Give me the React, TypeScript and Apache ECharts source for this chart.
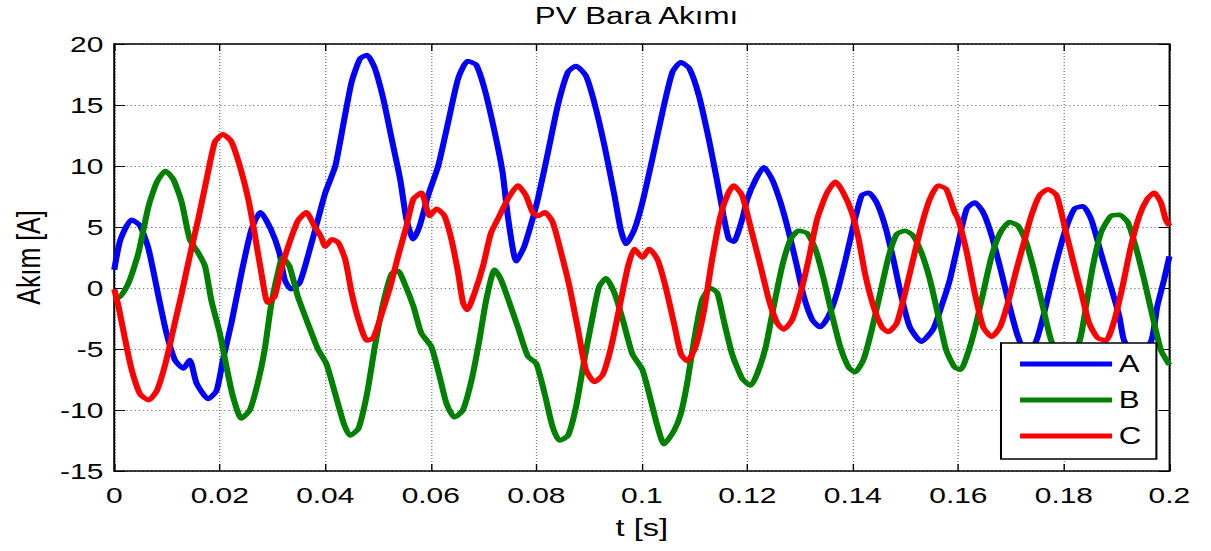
import { useEffect, useRef } from 'react';
import * as echarts from 'echarts';

// ---- data (time in ms, current in A) ----
const seriesA: [number, number][] = [
  [0, 1.5], [1.2, 4.0], [3.3, 5.6], [4.9, 5.1], [6.5, 3.2], [8.4, -0.7], [9.9, -3.7], [11.5, -5.9],
  [13.1, -6.6], [14.3, -5.9], [15.6, -7.8], [17.8, -9.1], [19.4, -8.4], [20.6, -5.9], [22.2, -2.9],
  [24.1, 1.2], [26.0, 4.8], [27.7, 6.2], [29.7, 4.8], [31.3, 2.9], [32.3, 0.7], [33.5, -0.1],
  [35.1, 0.4], [36.7, 2.6], [38.6, 5.6], [40.0, 7.8], [41.9, 10.0], [43.5, 13.6], [45.0, 16.9],
  [46.6, 18.8], [47.9, 19.1], [49.4, 18.0], [51.0, 15.5], [52.6, 12.2], [54.2, 8.9], [55.4, 5.6],
  [56.7, 4.0], [57.9, 5.1], [59.5, 7.6], [61.4, 10.0], [63.3, 13.6], [65.2, 17.2], [67.0, 18.6],
  [68.6, 18.3], [70.2, 16.3], [72.1, 12.8], [73.6, 9.5], [74.6, 5.9], [76.2, 2.2], [77.7, 3.4],
  [79.0, 5.2], [80.3, 7.3], [82.2, 11.1], [84.1, 15.0], [86.0, 17.7], [87.5, 18.2], [89.4, 17.4],
  [91.0, 15.2], [92.9, 11.7], [94.8, 7.6], [96.0, 4.8], [97.0, 3.6], [98.6, 4.8], [100.1, 7.0],
  [102.0, 10.6], [103.9, 14.4], [105.8, 17.7], [107.4, 18.5], [109.0, 18.0], [110.8, 15.8],
  [112.7, 12.2], [114.3, 8.7], [115.5, 5.9], [116.5, 4.0], [117.4, 3.8], [119.0, 5.6], [120.0, 7.3],
  [121.6, 8.9], [123.1, 9.9], [124.7, 8.9], [126.3, 7.0], [127.9, 4.5], [129.4, 1.8], [130.7, -0.7],
  [132.3, -2.6], [133.8, -3.2], [135.4, -2.3], [137.0, -0.4], [138.6, 2.3], [140.1, 5.1],
  [141.7, 7.6], [143.0, 7.8], [144.5, 7.0], [146.1, 5.1], [147.7, 2.3], [149.2, -0.7], [150.8, -3.2],
  [153.0, -4.4], [155.2, -3.4], [156.8, -1.5], [158.4, 0.7], [160.0, 3.7], [161.6, 6.5], [163.1, 7.0],
  [164.7, 6.2], [166.3, 4.3], [168.2, 1.2], [169.7, -1.5], [171.3, -4.0], [173.0, -5.5], [174.8, -4.3],
  [176.4, -1.8], [178.2, 1.5], [180.1, 4.5], [182.0, 6.5], [183.6, 6.7], [185.2, 5.6], [187.0, 2.9],
  [188.9, 0.1], [190.5, -2.3], [191.4, -4.3], [193.5, -5.6], [196.5, -4.4], [197.7, -1.5],
  [199.0, 0.7], [200.0, 2.6],
];

const seriesB: [number, number][] = [
  [0, -0.7], [0.8, -0.8], [2.7, 0.4], [4.6, 2.9], [6.5, 6.7], [8.1, 8.7], [9.7, 9.6], [11.2, 8.9],
  [12.8, 7.0], [14.3, 4.0], [15.9, 2.9], [17.2, 1.8], [18.4, -1.0], [20.0, -3.7], [21.3, -6.5],
  [22.5, -8.9], [24.1, -10.7], [25.7, -10.0], [27.2, -7.8], [28.5, -5.1], [29.7, -1.5], [31.0, 1.2],
  [31.9, 2.5], [33.2, 1.8], [34.8, -0.7], [36.7, -2.9], [38.6, -5.0], [40.2, -6.2], [41.9, -8.7],
  [43.5, -11.1], [44.7, -12.1], [46.3, -11.5], [47.9, -8.7], [49.4, -4.8], [51.0, -1.2], [52.6, 1.2],
  [53.8, 1.4], [55.0, 0.4], [56.7, -1.5], [58.2, -3.7], [60.1, -4.8], [61.7, -7.3], [63.0, -9.5],
  [64.5, -10.6], [66.1, -10.0], [67.7, -7.6], [69.2, -4.3], [70.5, -1.0], [72.1, 1.5], [73.3, 0.7],
  [74.9, -1.2], [76.5, -3.2], [78.4, -5.6], [80.0, -6.2], [81.6, -8.7], [83.1, -11.4], [84.4, -12.5],
  [86.0, -12.1], [87.5, -9.8], [89.1, -5.9], [90.7, -2.3], [91.9, 0.1], [93.2, 0.8], [94.8, -0.4],
  [96.4, -2.6], [98.2, -5.4], [100.1, -6.7], [101.7, -9.2], [103.0, -11.4], [104.2, -12.8],
  [106.1, -11.7], [107.4, -10.3], [108.6, -7.8], [109.9, -4.3], [111.4, -1.0], [113.0, 0.0],
  [114.3, -0.4], [115.5, -2.6], [117.1, -5.4], [119.0, -7.4], [120.6, -8.0], [121.9, -7.0],
  [123.5, -4.8], [125.0, -1.5], [126.6, 1.8], [128.2, 4.0], [129.7, 4.7], [131.3, 4.5], [132.9, 3.2],
  [134.5, 0.7], [136.0, -2.1], [137.6, -4.8], [139.2, -6.5], [140.4, -6.9], [142.0, -5.9],
  [143.6, -3.4], [145.2, -0.4], [146.8, 2.6], [148.3, 4.4], [149.9, 4.7], [151.4, 4.3], [153.0, 2.9],
  [154.6, 0.7], [156.2, -2.3], [157.7, -5.1], [159.3, -6.5], [160.4, -6.7], [161.6, -5.6],
  [163.1, -3.4], [164.7, -0.4], [166.3, 2.6], [167.9, 4.5], [169.7, 5.4], [171.3, 5.1], [172.9, 3.7],
  [174.5, 1.2], [176.0, -1.5], [177.6, -4.3], [180.3, -6.6], [183.0, -4.3], [184.2, -1.5],
  [185.5, 1.8], [187.0, 4.5], [188.9, 5.9], [190.5, 6.0], [192.1, 5.4], [193.6, 3.4], [195.2, 0.7],
  [196.8, -2.3], [198.4, -5.1], [200.0, -6.3],
];

const seriesC: [number, number][] = [
  [0, -0.1], [0.8, -1.5], [2.1, -4.3], [3.3, -6.7], [4.9, -8.7], [6.5, -9.2], [8.1, -8.4], [9.7, -6.2],
  [11.2, -3.4], [12.8, -0.4], [14.3, 2.6], [15.9, 5.6], [17.5, 8.9], [19.1, 12.0], [20.6, 12.6],
  [22.2, 12.0], [23.8, 10.0], [25.4, 7.3], [26.6, 4.5], [27.9, 1.2], [29.1, -1.2], [30.4, -0.7],
  [31.6, 1.5], [33.2, 3.7], [34.8, 5.5], [36.4, 6.2], [37.9, 5.1], [39.2, 4.2], [40.0, 3.4],
  [41.3, 4.0], [42.5, 3.7], [43.8, 2.3], [45.0, -0.4], [46.3, -2.6], [47.9, -4.3], [49.1, -4.1],
  [50.7, -2.1], [52.3, 0.1], [53.8, 2.6], [55.4, 5.1], [56.7, 7.3], [58.2, 7.8], [59.8, 5.9],
  [61.1, 6.5], [62.6, 5.9], [63.9, 4.0], [65.2, 1.2], [66.1, -1.2], [66.9, -1.8], [68.3, -0.4],
  [69.9, 1.8], [71.4, 4.5], [73.0, 5.9], [74.6, 7.3], [76.5, 8.4], [78.0, 7.6], [79.3, 6.2],
  [80.3, 5.9], [81.6, 6.2], [83.1, 5.4], [84.7, 2.9], [86.3, 0.1], [87.9, -3.4], [89.4, -6.7],
  [91.0, -7.7], [92.6, -7.1], [94.2, -4.8], [95.8, -1.5], [97.4, 1.8], [98.6, 3.2], [100.1, 2.5],
  [101.4, 3.2], [103.0, 2.3], [104.5, 0.1], [106.1, -2.9], [107.4, -5.4], [108.6, -6.0],
  [110.2, -4.8], [111.8, -1.8], [113.3, 2.3], [114.9, 5.9], [116.2, 7.6], [117.4, 8.4], [119.0, 7.6],
  [120.9, 4.5], [122.5, 1.8], [124.1, -1.0], [125.7, -2.9], [126.9, -3.4], [128.5, -2.6],
  [130.1, -0.4], [131.6, 2.3], [133.2, 5.6], [135.1, 7.8], [136.7, 8.7], [138.2, 7.8], [139.8, 6.2],
  [141.1, 4.0], [142.3, 1.2], [143.9, -1.5], [145.5, -3.2], [146.7, -3.6], [148.3, -2.9],
  [149.9, -0.4], [151.4, 2.3], [153.0, 5.1], [154.6, 7.3], [156.2, 8.4], [157.7, 8.1], [159.3, 6.2],
  [160.0, 5.6], [161.6, 2.9], [163.1, -0.4], [164.7, -3.2], [166.3, -4.0], [167.9, -3.2],
  [169.4, -1.2], [171.0, 1.5], [172.6, 4.0], [173.8, 5.9], [175.4, 7.6], [177.0, 8.1], [178.6, 7.6],
  [180.1, 5.1], [181.7, 2.3], [183.3, -0.4], [184.8, -2.9], [186.4, -4.1], [188.0, -4.3],
  [189.6, -2.6], [191.1, 0.1], [192.7, 3.4], [194.3, 5.9], [195.8, 7.3], [197.1, 7.8], [198.4, 7.0],
  [199.3, 5.6], [200.0, 5.1],
];

const seriesNames = ['A', 'B', 'C'];
const seriesColors = ['#0000ff', '#008000', '#ff0000'];
const xTickLabels = ['0', '0.02', '0.04', '0.06', '0.08', '0.1', '0.12', '0.14', '0.16', '0.18', '0.2'];
const yTickLabels = ['-15', '-10', '-5', '0', '5', '10', '15', '20'];
const titleText = 'PV Bara Akımı';
const xName = 't [s]';
const yName = 'Akım [A]';

// The reference figure is stretched horizontally; reproduce that with a CSS scaleX.
const STRETCH = 1.36;
const PAGE_W = 1211;
const PAGE_H = 551;
const CHART_W = PAGE_W / STRETCH;
const ux = (px: number) => px / STRETCH; // screen x -> chart x

const FONT = '"Liberation Sans", Arial, Helvetica, sans-serif';

export default function App() {
  const ref = useRef<HTMLDivElement>(null);

  useEffect(() => {
    if (!ref.current) return;
    const chart = echarts.init(ref.current, null, { renderer: 'svg' });

    const plotLeft = ux(110.7);
    const plotRight = ux(1170);
    const axisLine = { show: true, onZero: false, lineStyle: { color: '#000', width: 1.5 } };
    const gridLine = { show: true, lineStyle: { color: '#808080', width: 1, type: [1, 2] as any } };

    const data = [seriesA, seriesB, seriesC];

    chart.setOption({
      animation: false,
      backgroundColor: '#fff',
      textStyle: { fontFamily: FONT },
      title: {
        text: titleText,
        left: ux(636.5),
        top: 5,
        padding: 0,
        textAlign: 'center',
        textStyle: { fontSize: 23, fontWeight: 'normal', color: '#000', fontFamily: FONT },
      },
      legend: {
        data: seriesNames,
        orient: 'vertical',
        left: ux(1001),
        top: 343,
        padding: [9, 11, 11, 14],
        itemWidth: ux(1112) - ux(1020),
        itemHeight: 5,
        itemGap: 12,
        icon: 'rect',
        borderColor: '#000',
        borderWidth: 1.5,
        borderRadius: 0,
        backgroundColor: '#fff',
        textStyle: { fontSize: 23, color: '#000', lineHeight: 24, fontFamily: FONT },
      },
      grid: {
        left: plotLeft,
        right: CHART_W - plotRight,
        top: 44,
        bottom: PAGE_H - 471,
        containLabel: false,
      },
      xAxis: [
        {
          type: 'value',
          min: 0,
          max: 0.2,
          interval: 0.02,
          position: 'bottom',
          axisLine,
          axisTick: { show: true, inside: true, length: 7, lineStyle: { color: '#000', width: 1 } },
          axisLabel: {
            margin: 13,
            fontSize: 22,
            color: '#000',
            fontFamily: FONT,
            formatter: (v: number) => xTickLabels[Math.round(v / 0.02)] ?? '',
          },
          splitLine: gridLine,
          name: xName,
          nameLocation: 'middle',
          nameGap: 45,
          nameTextStyle: { fontSize: 24, color: '#000', fontFamily: FONT },
        },
        {
          type: 'value',
          min: 0,
          max: 0.2,
          interval: 0.02,
          position: 'top',
          axisLine,
          axisTick: { show: true, inside: true, length: 7, lineStyle: { color: '#000', width: 1 } },
          axisLabel: { show: false },
          splitLine: { show: false },
        },
      ],
      yAxis: [
        {
          type: 'value',
          min: -15,
          max: 20,
          interval: 5,
          position: 'left',
          axisLine,
          axisTick: { show: true, inside: true, length: 8, lineStyle: { color: '#000', width: 1 } },
          axisLabel: {
            margin: 8,
            fontSize: 22,
            color: '#000',
            fontFamily: FONT,
            formatter: (v: number) => yTickLabels[Math.round((v + 15) / 5)] ?? '',
          },
          splitLine: gridLine,
          name: yName,
          nameLocation: 'middle',
          nameGap: 51,
          nameRotate: 90,
          nameTextStyle: { fontSize: 25, color: '#000', fontFamily: FONT },
        },
        {
          type: 'value',
          min: -15,
          max: 20,
          interval: 5,
          position: 'right',
          axisLine,
          axisTick: { show: true, inside: true, length: 8, lineStyle: { color: '#000', width: 1 } },
          axisLabel: { show: false },
          splitLine: { show: false },
        },
      ],
      series: seriesNames.map((name, i) => ({
        name,
        type: 'line',
        xAxisIndex: 0,
        yAxisIndex: 0,
        showSymbol: false,
        smooth: 0.2,
        clip: true,
        data: data[i].map(([t, v]) => [t / 1000, v]),
        lineStyle: { color: seriesColors[i], width: 4.5 },
        itemStyle: { color: seriesColors[i] },
        z: 2,
      })),
    });

    return () => chart.dispose();
  }, []);

  return (
    <div
      ref={ref}
      style={{
        position: 'fixed',
        left: 0,
        top: 0,
        width: CHART_W,
        height: PAGE_H,
        transform: `scaleX(${STRETCH})`,
        transformOrigin: '0 0',
        background: '#fff',
      }}
    />
  );
}
